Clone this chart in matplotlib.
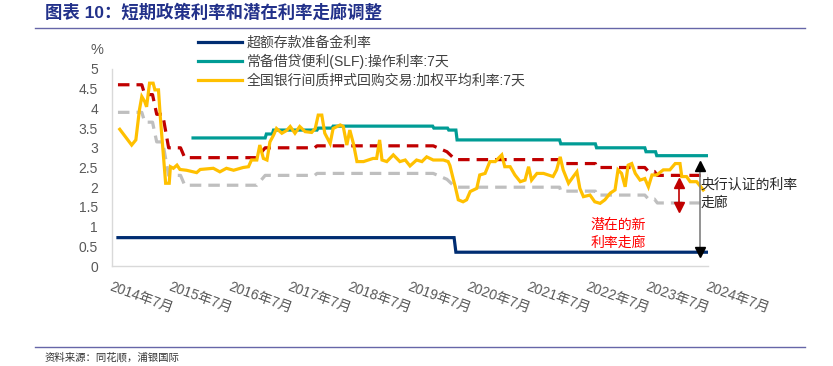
import numpy as np
import matplotlib
matplotlib.use('Agg')
import matplotlib.pyplot as plt
from matplotlib.lines import Line2D

plt.rcParams['font.family'] = ['Liberation Sans', 'Noto Sans CJK SC', 'DejaVu Sans']

# x values are decimal years
# excess reserve rate
ioer_t = [2014.6, 2020.24, 2020.27, 2024.5]
ioer_v = [0.72, 0.72, 0.35, 0.35]

# SLF 7d rate
slf_t = [2015.86, 2017.07, 2017.09, 2017.19, 2017.21, 2017.94, 2017.96, 2018.19, 2018.21,
         2019.88, 2019.90, 2020.13, 2020.15, 2020.27, 2020.29, 2022.01, 2022.03,
         2022.61, 2022.63, 2023.44, 2023.46, 2023.62, 2023.64, 2024.5]
slf_v = [3.25, 3.25, 3.35, 3.35, 3.45, 3.45, 3.5, 3.5, 3.55,
         3.55, 3.5, 3.5, 3.45, 3.45, 3.2, 3.2, 3.1,
         3.1, 3.0, 3.0, 2.9, 2.9, 2.8, 2.8]

# DR007 weighted average
dr007_t = [2014.63, 2014.83, 2014.90, 2014.96, 2015.00, 2015.05, 2015.08, 2015.13, 2015.19,
           2015.22, 2015.28, 2015.31, 2015.36, 2015.40, 2015.46, 2015.48, 2015.53, 2015.59,
           2015.64, 2015.75, 2015.92, 2015.98, 2016.20, 2016.31, 2016.42, 2016.54, 2016.70,
           2016.79, 2016.84, 2016.93, 2016.98, 2017.04, 2017.10, 2017.15, 2017.21, 2017.26,
           2017.35, 2017.43, 2017.49, 2017.57, 2017.65, 2017.74, 2017.85, 2017.91, 2017.96,
           2018.02, 2018.07, 2018.16, 2018.21, 2018.33, 2018.38, 2018.44, 2018.49, 2018.55,
           2018.61, 2018.72, 2018.80, 2018.88, 2018.94, 2018.99, 2019.03, 2019.11, 2019.22,
           2019.33, 2019.42, 2019.50, 2019.61, 2019.70, 2019.78, 2019.89, 2020.06, 2020.14,
           2020.17, 2020.23, 2020.26, 2020.31, 2020.39, 2020.45, 2020.51, 2020.62, 2020.67,
           2020.76, 2020.84, 2020.93, 2020.98, 2021.04, 2021.09, 2021.18, 2021.26, 2021.35,
           2021.43, 2021.49, 2021.54, 2021.63, 2021.74, 2021.82, 2021.90, 2021.96, 2022.02,
           2022.07, 2022.16, 2022.24, 2022.30, 2022.35, 2022.41, 2022.52, 2022.60, 2022.69,
           2022.77, 2022.86, 2022.94, 2022.99, 2023.05, 2023.11, 2023.16, 2023.22, 2023.28,
           2023.36, 2023.44, 2023.50, 2023.56, 2023.64, 2023.75, 2023.86, 2023.95, 2024.03,
           2024.06, 2024.14, 2024.20, 2024.31, 2024.42]
dr007_v = [3.47, 3.07, 3.20, 3.96, 4.30, 4.17, 4.04, 4.64, 4.64,
           4.47, 4.47, 3.79, 2.86, 2.10, 2.10, 2.52, 2.48, 2.56,
           2.45, 2.43, 2.37, 2.45, 2.48, 2.39, 2.48, 2.43, 2.50,
           2.52, 2.69, 2.69, 3.07, 2.73, 2.69, 3.15, 3.32, 3.49,
           3.37, 3.44, 3.54, 3.37, 3.54, 3.41, 3.39, 3.49, 3.83,
           3.83, 3.37, 3.11, 3.49, 3.58, 3.54, 3.07, 3.45, 3.11,
           2.65, 2.65, 2.69, 2.73, 2.73, 3.20, 2.69, 2.65, 2.82,
           2.65, 2.69, 2.54, 2.69, 2.65, 2.77, 2.69, 2.69, 2.65,
           2.55, 2.18, 2.01, 1.68, 1.63, 1.68, 1.89, 1.97, 2.31,
           2.35, 2.65, 2.65, 2.73, 2.82, 2.52, 2.52, 2.31, 2.14,
           2.18, 2.52, 2.18, 2.35, 2.35, 2.31, 2.27, 2.44, 2.77,
           2.44, 2.10, 2.27, 2.39, 1.97, 1.76, 1.80, 1.63, 1.59,
           1.68, 1.85, 1.93, 2.44, 2.35, 2.01, 2.56, 2.60, 2.35,
           2.18, 2.22, 2.01, 2.31, 2.31, 2.44, 2.44, 2.60, 2.60,
           2.27, 2.27, 2.14, 2.14, 1.93]

# potential corridor, upper and lower bounds
upper_t = [2014.6, 2015.0, 2015.05, 2015.18, 2015.25, 2015.35, 2015.45, 2015.65, 2015.72,
           2016.93, 2017.07, 2017.90, 2017.94, 2019.89, 2020.12, 2020.26, 2022.01, 2022.03,
           2022.61, 2022.63, 2023.44, 2023.50, 2023.60, 2023.65, 2024.5]
upper_v = [4.6, 4.6, 4.35, 4.35, 3.85, 3.85, 3.0, 3.0, 2.75,
           2.75, 3.0, 3.0, 3.05, 3.05, 2.9, 2.7, 2.7, 2.6,
           2.6, 2.5, 2.5, 2.4, 2.4, 2.3, 2.3]
lower_t = upper_t
lower_v = [3.9, 3.9, 3.65, 3.65, 3.15, 3.15, 2.3, 2.3, 2.05,
           2.05, 2.3, 2.3, 2.35, 2.35, 2.2, 2.0, 2.0, 1.9,
           1.9, 1.8, 1.8, 1.7, 1.7, 1.6, 1.6]

tick_pos = [2014.5 + k for k in range(11)]
tick_lab = [f'{2014 + k}年7月' for k in range(11)]

labels = ['超额存款准备金利率', '常备借贷便利(SLF):操作利率:7天', '全国银行间质押式回购交易:加权平均利率:7天']
colors = ['#002D72', '#009C95', '#FFC000']
red = '#C00000'
grey = '#BFBFBF'
txt = '#595959'

fig = plt.figure(figsize=(8.33, 3.66), dpi=100)
ax = fig.add_axes([112/833, 1 - 266/366, (708 - 112)/833, (266 - 69)/366])

ax.plot(upper_t, upper_v, color=red, lw=2.3, dashes=(3.6, 2.2))
ax.plot(lower_t, lower_v, color=grey, lw=2.3, dashes=(3.6, 2.2))
l1, = ax.plot(ioer_t, ioer_v, color=colors[0], lw=2.3, solid_joinstyle='miter')
l2, = ax.plot(slf_t, slf_v, color=colors[1], lw=2.3, solid_joinstyle='miter')
l3, = ax.plot(dr007_t, dr007_v, color=colors[2], lw=2.3, solid_joinstyle='miter')

ax.set_xlim(2014.5, 2024.5)
ax.set_ylim(0, 5)
ax.set_yticks(np.arange(0, 5.01, 0.5))
ax.set_yticklabels(['0', '0.5', '1', '1.5', '2', '2.5', '3', '3.5', '4', '4.5', '5'])
ax.set_xticks(tick_pos)
ax.set_xticklabels(tick_lab, rotation=-20, ha='left', va='top', rotation_mode='anchor')
ax.tick_params(axis='y', length=0, colors=txt, labelsize=10, pad=10)
ax.tick_params(axis='x', length=0, colors=txt, labelsize=10, pad=10)
for s in ['top', 'right']:
    ax.spines[s].set_visible(False)
for s in ['left', 'bottom']:
    ax.spines[s].set_color('#D9D9D9')
    ax.spines[s].set_linewidth(1)

# corridor arrows
xa = 2024.37
ax.plot([xa, xa], [0.4, 2.55], color='#808080', lw=1.2, clip_on=False)
ax.plot(xa, 2.55, marker='^', color='black', ms=7, clip_on=False)
ax.plot(xa, 0.36, marker='v', color='black', ms=7, clip_on=False)
xr = 2024.01
ax.plot([xr, xr], [1.55, 2.05], color=red, lw=1.2)
ax.plot(xr, 2.1, marker='^', color=red, ms=7)
ax.plot(xr, 1.5, marker='v', color=red, ms=7)

ax.text(xa, 2.06, '央行认证的利率', fontsize=10, color='#262626', va='center', ha='left', clip_on=False)
ax.text(xa, 1.6, '走廊', fontsize=10, color='#262626', va='center', ha='left', clip_on=False)
ax.text(2022.99, 1.04, '潜在的新', fontsize=10, color='#FF0000', va='center', ha='center')
ax.text(2022.99, 0.58, '利率走廊', fontsize=10, color='#FF0000', va='center', ha='center')

fig.legend([l1, l2, l3], labels, loc='upper left', bbox_to_anchor=(198/833, 1 - 36/366),
           frameon=False, fontsize=10, handlelength=3.2, handletextpad=0.3,
           labelspacing=0.3, borderpad=0, borderaxespad=0, labelcolor='#404040')

fig.text(97/833, 1 - 50/366, '%', fontsize=10.5, color=txt, ha='center', va='center')

fig.text(45/833, 1 - 12/366, '图表 10：短期政策利率和潜在利率走廊调整', fontsize=12.5,
         fontweight='bold', color='#22318A', ha='left', va='center')
fig.add_artist(Line2D([35/833, 805/833], [1 - 28/366, 1 - 28/366], color='#6666A8', lw=1))
fig.add_artist(Line2D([35/833, 805/833], [1 - 347/366, 1 - 347/366], color='#6666A8', lw=1))
fig.text(45/833, 1 - 357/366, '资料来源：同花顺，浦银国际', fontsize=7.5, color='#333333',
         ha='left', va='center')

fig.savefig('out.png', dpi=100)
